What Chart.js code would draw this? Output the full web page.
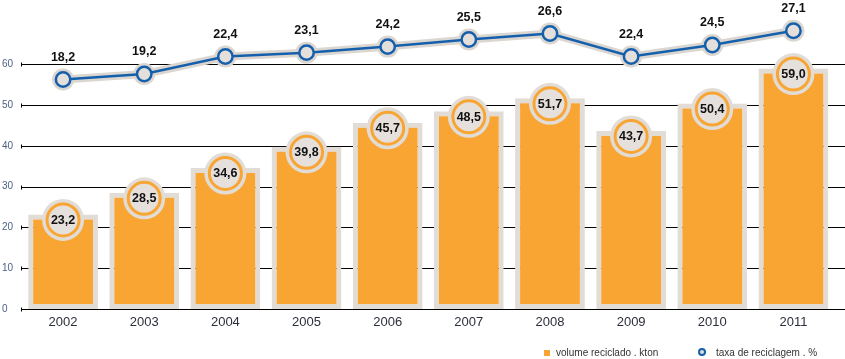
<!DOCTYPE html>
<html>
<head>
<meta charset="utf-8">
<script src="https://cdn.jsdelivr.net/npm/chart.js@4.4.1/dist/chart.umd.min.js"></script>
<style>
  html, body { margin: 0; padding: 0; background: #ffffff; }
  #wrap { position: relative; width: 845px; height: 359px; }
  #legend { position: absolute; left: 0; top: 344px; width: 845px; height: 15px;
            font-family: "Liberation Sans", Arial, sans-serif; font-size: 10px; color: #333333; }
  .item { position: absolute; top: 0; line-height: 16px; white-space: nowrap; }
  .sq { position: absolute; width: 6px; height: 6px; background: #f8a533; }
  .ring { position: absolute; width: 4px; height: 4px; border: 2px solid #1560ad; border-radius: 50%; background: #e4dfda; }
</style>
</head>
<body>
<div id="wrap">
  <canvas id="c" width="845" height="359"></canvas>
  <div id="legend">
    <div class="sq" style="left:544px; top:6px;"></div>
    <div class="item" style="left:556px; top:1px;">volume reciclado . kton</div>
    <div class="ring" style="left:698px; top:4px;"></div>
    <div class="item" style="left:716px; top:1px;">taxa de reciclagem . %</div>
  </div>
</div>
<script>
const years = ['2002','2003','2004','2005','2006','2007','2008','2009','2010','2011'];
const volume = [23.2, 28.5, 34.6, 39.8, 45.7, 48.5, 51.7, 43.7, 50.4, 59.0];
const taxa = [18.2, 19.2, 22.4, 23.1, 24.2, 25.5, 26.6, 22.4, 24.5, 27.1];
const yTicks = [0, 10, 20, 30, 40, 50, 60];

const fmt = v => v.toFixed(1).replace('.', ',');

const ORANGE = '#f8a533';
const GRAYB = '#e2dcd6';
const INNER = '#e5e0dc';
const BLUE = '#1560ad';

const decor = {
  id: 'decor',
  beforeDatasetsDraw(chart) {
    const ctx = chart.ctx;
    const y = chart.scales.y;
    ctx.save();
    ctx.strokeStyle = '#000000';
    ctx.lineWidth = 1;
    yTicks.forEach(t => {
      const py = Math.round(y.getPixelForValue(t)) + 0.5;
      ctx.beginPath();
      ctx.moveTo(21, py);
      ctx.lineTo(845, py);
      ctx.stroke();
      ctx.beginPath();
      ctx.moveTo(21.5, py - 2);
      ctx.lineTo(21.5, py + 2);
      ctx.stroke();
    });
    ctx.restore();
  },
  afterDatasetDraw(chart, args) {
    if (args.index !== 0) return;
    const ctx = chart.ctx;
    const meta = chart.getDatasetMeta(0);
    ctx.save();
    meta.data.forEach((bar, i) => {
      const cx = bar.x, cy = bar.y + 5.5;
      ctx.beginPath();
      ctx.arc(cx, cy, 21, 0, Math.PI * 2);
      ctx.fillStyle = GRAYB;
      ctx.fill();
      ctx.beginPath();
      ctx.arc(cx, cy, 16, 0, Math.PI * 2);
      ctx.fillStyle = INNER;
      ctx.fill();
      ctx.lineWidth = 3;
      ctx.strokeStyle = ORANGE;
      ctx.stroke();
      ctx.fillStyle = '#111111';
      ctx.font = 'bold 12.5px "Liberation Sans", Arial, sans-serif';
      ctx.textAlign = 'center';
      ctx.textBaseline = 'middle';
      ctx.fillText(fmt(volume[i]), cx, cy + 0.5);
    });
    ctx.restore();
  },
  afterDatasetsDraw(chart) {
    const ctx = chart.ctx;
    const meta = chart.getDatasetMeta(2);
    ctx.save();
    ctx.fillStyle = '#111111';
    ctx.font = 'bold 12.5px "Liberation Sans", Arial, sans-serif';
    ctx.textAlign = 'center';
    ctx.textBaseline = 'middle';
    meta.data.forEach((pt, i) => {
      ctx.fillText(fmt(taxa[i]), pt.x, Math.max(9, pt.y - 22));
    });
    ctx.restore();
  }
};

new Chart(document.getElementById('c'), {
  data: {
    labels: years,
    datasets: [
      {
        type: 'bar',
        data: volume,
        yAxisID: 'y',
        backgroundColor: ORANGE,
        borderColor: GRAYB,
        borderWidth: 5,
        borderSkipped: false,
        barPercentage: 0.86,
        categoryPercentage: 1,
        order: 5,
        clip: false
      },
      {
        type: 'line',
        data: taxa,
        yAxisID: 'y1',
        borderColor: '#dcd6d0',
        borderWidth: 8,
        pointRadius: 11,
        pointBackgroundColor: '#dcd6d0',
        pointBorderWidth: 0,
        borderCapStyle: 'round',
        tension: 0,
        order: 2,
        clip: false
      },
      {
        type: 'line',
        data: taxa,
        yAxisID: 'y1',
        borderColor: BLUE,
        borderWidth: 2.5,
        pointRadius: 7.2,
        pointBackgroundColor: '#e4dfda',
        pointBorderColor: BLUE,
        pointBorderWidth: 2.5,
        tension: 0,
        order: 1,
        clip: false
      }
    ]
  },
  options: {
    responsive: false,
    animation: false,
    events: [],
    devicePixelRatio: 1,
    layout: { padding: { top: 8, left: 2, right: 8.5, bottom: 0 } },
    plugins: { legend: { display: false }, tooltip: { enabled: false } },
    scales: {
      x: {
        grid: { display: false, drawTicks: false },
        border: { display: false },
        ticks: {
          padding: 6,
          color: '#2b2f3a',
          font: { family: '"Liberation Sans", Arial, sans-serif', size: 13 }
        },
        afterFit: s => { s.height = 50; }
      },
      y: {
        min: 0, max: 73.12,
        grid: { display: false, drawTicks: false },
        border: { display: false },
        afterBuildTicks: s => { s.ticks = yTicks.map(v => ({ value: v })); },
        ticks: {
          crossAlign: 'far',
          color: '#4a5f86',
          font: { family: '"Liberation Sans", Arial, sans-serif', size: 10 }
        },
        afterFit: s => { s.width = 20.5; }
      },
      y1: {
        display: false,
        min: -23.69, max: 30.70
      }
    }
  },
  plugins: [decor]
});
</script>
</body>
</html>
